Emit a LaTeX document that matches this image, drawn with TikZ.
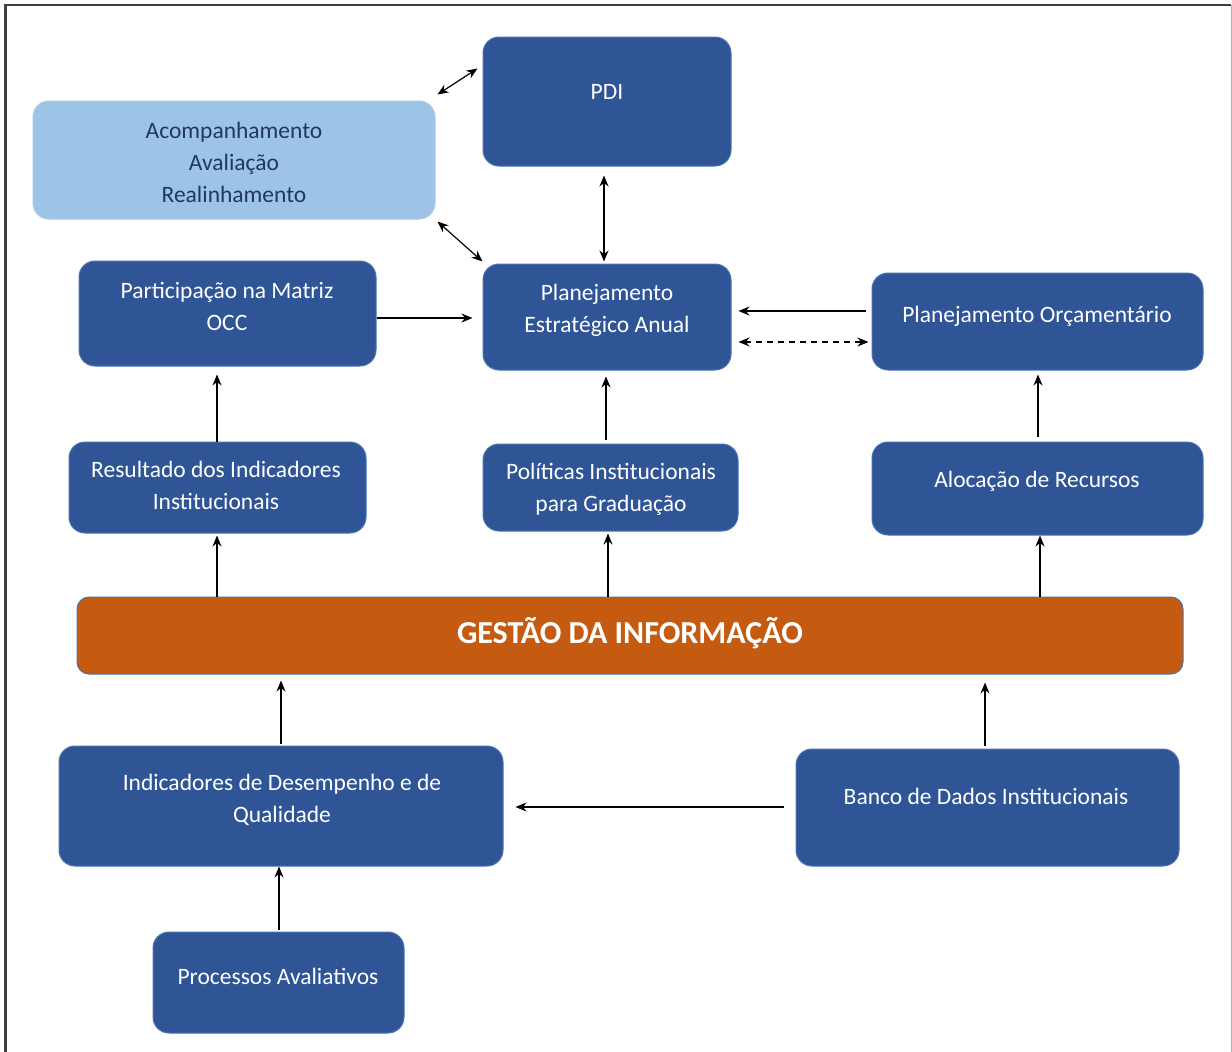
\documentclass[tikz,border=0pt]{standalone}
\usepackage{fontspec}
\setmainfont{Carlito}
\usetikzlibrary{arrows.meta}

\definecolor{boxblue}{HTML}{2F5597}
\definecolor{lightblue}{HTML}{9DC3E6}
\definecolor{darktext}{HTML}{203864}
\definecolor{infoorange}{HTML}{C55A11}
\definecolor{edgeblue}{HTML}{4A74B0}

\tikzset{
  blockbox/.style={draw=edgeblue, line width=1pt, fill=boxblue, rounded corners=16pt, inner sep=0pt},
  lightbox/.style={blockbox, fill=lightblue, draw=lightblue!90!white},
  infobox/.style={blockbox, fill=infoorange, rounded corners=12pt},
  boxtext/.style={text=white, align=center, font=\fontsize{23.5}{32}\selectfont, anchor=north, inner sep=0pt},
  arr/.style={-{Stealth[length=11pt,width=9pt]}, line width=1.2pt},
  darr/.style={{Stealth[length=11pt,width=9pt]}-{Stealth[length=11pt,width=9pt]}, line width=1.2pt}
}

\begin{document}
\begin{tikzpicture}[x=1pt, y=-1pt]
  \useasboundingbox (0,0) rectangle (1232,1052);
  % moldura
  \draw[line width=2.2pt, black!75] (5.5,1052) -- (5.5,5) -- (1231,5);
  \draw[line width=1pt, black!30] (1231,5) -- (1231,1052);

  % caixas
  \node[lightbox, minimum width=402pt, minimum height=118pt] (acomp) at (234,160) {};
  \node[boxtext, text=darktext] at (234,122) {Acompanhamento\\Avaliação\\Realinhamento};

  \node[blockbox, minimum width=248pt, minimum height=129pt] (pdi) at (607,101.5) {};
  \node[boxtext] at (607,84) {PDI};

  \node[blockbox, minimum width=248pt, minimum height=106pt] (plest) at (607,317) {};
  \node[boxtext] at (607,284) {Planejamento\\Estratégico Anual};

  \node[blockbox, minimum width=297pt, minimum height=105pt] (matriz) at (227.5,313.5) {};
  \node[boxtext] at (227,282) {Participação na Matriz\\OCC};

  \node[blockbox, minimum width=331pt, minimum height=97pt] (plorc) at (1037.5,321.5) {};
  \node[boxtext] at (1037,306) {Planejamento Orçamentário};

  \node[blockbox, minimum width=297pt, minimum height=91pt] (result) at (217.5,487.5) {};
  \node[boxtext] at (216,461) {Resultado dos Indicadores\\Institucionais};

  \node[blockbox, minimum width=255pt, minimum height=87pt] (polit) at (610.5,487.5) {};
  \node[boxtext] at (611,463) {Políticas Institucionais\\para Graduação};

  \node[blockbox, minimum width=331pt, minimum height=93pt] (aloc) at (1037.5,488.5) {};
  \node[boxtext] at (1037,471) {Alocação de Recursos};

  \node[infobox, minimum width=1106pt, minimum height=77pt] (gestao) at (630,635.5) {};
  \node[boxtext, font=\fontsize{32}{36}\selectfont\bfseries] at (630,617) {GESTÃO DA INFORMAÇÃO};

  \node[blockbox, minimum width=444pt, minimum height=120pt] (indic) at (281,806) {};
  \node[boxtext] at (282,774) {Indicadores de Desempenho e de\\Qualidade};

  \node[blockbox, minimum width=383pt, minimum height=117pt] (banco) at (987.5,807.5) {};
  \node[boxtext] at (986,788) {Banco de Dados Institucionais};

  \node[blockbox, minimum width=251pt, minimum height=101pt] (proc) at (278.5,982.5) {};
  \node[boxtext] at (278,968) {Processos Avaliativos};

  % conexoes
  \draw[darr] ([shift={(2pt,6pt)}]acomp.north east) -- ([shift={(-5pt,-32pt)}]pdi.west |- pdi.north);
  \draw[darr] ([shift={(2pt,-2pt)}]acomp.south east) -- ([shift={(0pt,2pt)}]plest.north west);
  \draw[darr] ([shift={(-3pt,-9pt)}]pdi.south) -- ([shift={(-3pt,2pt)}]plest.north);
  \draw[arr] (matriz.east |- 0,318) -- ([xshift=-10pt]plest.west |- 0,318);
  \draw[arr] ([xshift=-6pt]plorc.west |- 0,311) -- ([xshift=7pt]plest.east |- 0,311);
  \draw[darr, dashed, dash pattern=on 6pt off 5pt] ([xshift=7pt]plest.east |- 0,342) -- ([xshift=-3pt]plorc.west |- 0,342);
  \draw[arr] (result.north -| 217,0) -- ([yshift=-8pt]matriz.south -| 217,0);
  \draw[arr] ([yshift=4pt]polit.north -| 606,0) -- ([yshift=-6pt]plest.south -| 606,0);
  \draw[arr] ([yshift=5pt]aloc.north -| 1038,0) -- ([yshift=-4pt]plorc.south -| 1038,0);
  \draw[arr] (gestao.north -| 217,0) -- ([yshift=-2pt]result.south -| 217,0);
  \draw[arr] (gestao.north -| 608,0) -- ([yshift=-2pt]polit.south -| 608,0);
  \draw[arr] (gestao.north -| 1040,0) -- (aloc.south -| 1040,0);
  \draw[arr] ([yshift=2pt]indic.north -| 281,0) -- ([yshift=-6pt]gestao.south -| 281,0);
  \draw[arr] ([yshift=3pt]banco.north -| 985,0) -- ([yshift=-8pt]gestao.south -| 985,0);
  \draw[arr] ([xshift=-12pt]banco.west |- 0,807) -- ([xshift=12pt]indic.east |- 0,807);
  \draw[arr] ([yshift=2pt]proc.north -| 279,0) -- (indic.south -| 279,0);
\end{tikzpicture}
\end{document}
